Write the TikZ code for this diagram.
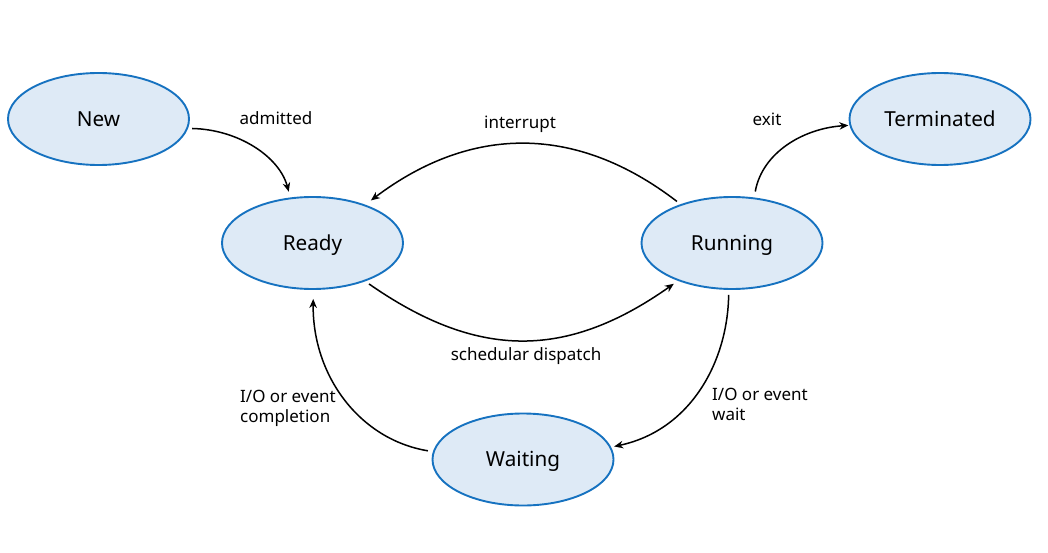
\documentclass[tikz,border=0pt]{standalone}
\usepackage{fontspec}
\setmainfont{Noto Sans}
\usetikzlibrary{shapes.geometric,arrows.meta}

\definecolor{stateFill}{RGB}{222,234,246}
\definecolor{stateLine}{RGB}{22,114,192}

\tikzset{
  state/.style={ellipse, draw=stateLine, fill=stateFill, line width=1.9pt,
    minimum width=181pt, minimum height=92pt, inner sep=0pt,
    font=\fontsize{20.7}{24}\selectfont, text height=14.8pt, text depth=0pt},
  trans/.style={line width=1.5pt, -{Stealth[length=9pt,width=7.5pt]}},
  lbl/.style={inner sep=0pt, font=\fontsize{17}{20.5}\selectfont},
  mlbl/.style={lbl, align=left, anchor=north west}
}

\begin{document}
\begin{tikzpicture}[x=1pt, y=-1pt]
  \useasboundingbox (0,0) rectangle (1048,553);

  % process states
  \node[state] (new)  at (98.5,119)  {New};
  \node[state] (ready) at (312.5,243) {Ready};
  \node[state] (run)  at (732,243)   {Running};
  \node[state] (term) at (940,119)   {Terminated};
  \node[state] (wait) at (523,459.5) {Waiting};

  % transitions
  \draw[trans, shorten <=4pt, shorten >=6pt]
    (new.-6) .. controls +(50,1) and +(-11,-41) .. (ready.116);
  \draw[trans, shorten <=4.5pt, shorten >=7pt]
    (run.143) .. controls +(-104,-80) and +(106,-80) .. (ready.36);
  \draw[trans, shorten <=4.5pt, shorten >=5pt]
    (ready.-36) .. controls +(112,78) and +(-112,79) .. (run.215);
  \draw[trans, shorten <=6pt, shorten >=1pt]
    (run.64) .. controls +(8,-45) and +(-46,3) .. (term.184);
  \draw[trans, shorten <=5pt, shorten >=3pt]
    (run.-94) .. controls +(-1,71) and +(80,-17) .. (wait.8.5);
  \draw[trans, shorten <=5pt, shorten >=9pt]
    (wait.175) .. controls +(-73,-12) and +(-1,86) .. (ready.-89);

  % transition labels
  \node[lbl] (l-adm)  at (276,118)   {admitted};
  \node[lbl] (l-int)  at (520,124.5) {interrupt};
  \node[lbl] (l-disp) at (526,356.5) {schedular dispatch};
  \node[lbl] (l-exit) at (767,119)   {exit};
  \node[mlbl] (l-wait) at (712,387.5)  {I/O or event\\wait};
  \node[mlbl] (l-comp) at (240,389.5)  {I/O or event\\completion};
\end{tikzpicture}
\end{document}
